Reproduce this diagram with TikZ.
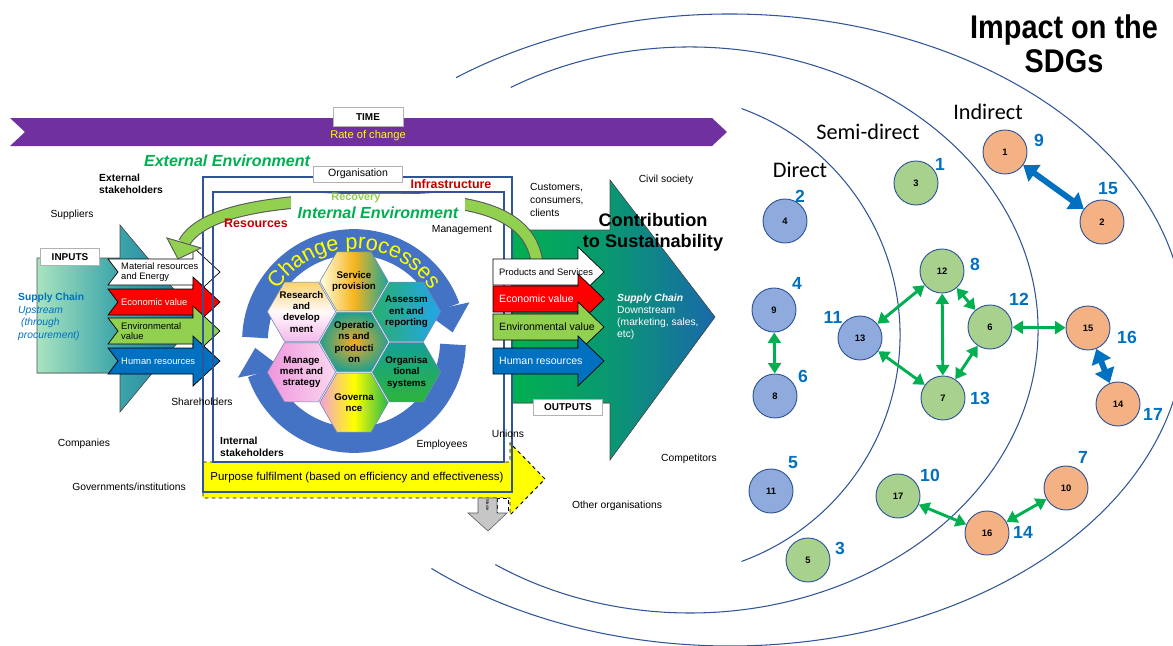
\documentclass[tikz,border=0pt]{standalone}
\usepackage{fontspec}
\setmainfont{Liberation Sans}
\newfontfamily\calfont{Carlito}
\newfontfamily\narrowfont[FakeStretch=0.88]{Liberation Sans}
\usetikzlibrary{arrows.meta,bending,shapes.geometric,decorations.text}

\definecolor{orgblue}{RGB}{47,85,151}
\definecolor{sdgblue}{RGB}{0,112,192}
\definecolor{linkgreen}{RGB}{0,176,80}
\definecolor{envgreen}{RGB}{146,208,80}
\definecolor{darkred}{RGB}{192,0,0}
\definecolor{timepurple}{RGB}{112,48,160}
\definecolor{ringblue}{RGB}{68,114,196}
\definecolor{cpyellow}{RGB}{255,255,0}
\definecolor{econred}{RGB}{255,0,0}
\definecolor{hrblue}{RGB}{0,112,192}
\definecolor{circblue}{RGB}{143,170,220}
\definecolor{circgreen}{RGB}{169,209,142}
\definecolor{circorange}{RGB}{244,177,131}
\definecolor{upmint}{RGB}{168,228,192}
\definecolor{upteal}{RGB}{60,165,170}
\definecolor{upblue}{RGB}{30,120,165}
\definecolor{downgreen}{RGB}{0,176,80}
\definecolor{downteal}{RGB}{10,150,115}
\definecolor{downblue}{RGB}{25,105,170}

\begin{document}
\begin{tikzpicture}[x=0.03cm, y=-0.03cm,
  lbl/.style={font=\fontsize{8.8}{10.8}\selectfont, inner sep=0pt},
  blbl/.style={font=\bfseries\fontsize{8.8}{10.5}\selectfont, inner sep=0pt, align=left},
  envtitle/.style={font=\bfseries\itshape\fontsize{13.7}{15}\selectfont, text=linkgreen, inner sep=0pt},
  redtitle/.style={font=\bfseries\fontsize{10.6}{12}\selectfont, text=darkred, inner sep=0pt},
  tagbox/.style={draw=gray!60, fill=white, line width=0.8pt, inner sep=0pt, font=\bfseries\fontsize{8.5}{9}\selectfont},
  orgline/.style={draw=orgblue, line width=1.7pt},
  hexcell/.style={regular polygon, regular polygon sides=6, minimum size=2.05cm, inner sep=0pt, draw=orgblue!70, line width=0.5pt},
  hextext/.style={font=\bfseries\fontsize{8.3}{9.6}\selectfont, align=center, inner sep=0pt},
  flowarrow/.style={draw=black, line width=0.6pt},
  intext/.style={font=\fontsize{8}{9}\selectfont, align=left, inner sep=0pt, anchor=west},
  outtext/.style={font=\fontsize{9}{10}\selectfont, align=left, inner sep=0pt, anchor=west},
  ringarrow/.style={draw=ringblue, line width=22pt, -{Triangle[width=39pt, length=22pt, line width=0pt]}},
  sdgcirc/.style={circle, draw=orgblue, line width=0.8pt, minimum size=1.32cm, inner sep=0pt, font=\bfseries\fontsize{8}{8}\selectfont},
  sdgnum/.style={font=\bfseries\fontsize{15}{15}\selectfont, text=sdgblue, inner sep=0pt},
  tiername/.style={font=\calfont\fontsize{19}{19}\selectfont, inner sep=0pt},
  zone/.style={draw=orgblue, line width=0.9pt},
  greenlink/.style={draw=linkgreen, line width=2.5pt, {Triangle[length=9pt, width=11pt]}-{Triangle[length=9pt, width=11pt]}},
  bluelink/.style={draw=sdgblue, line width=5pt, {Triangle[length=12pt, width=17pt]}-{Triangle[length=12pt, width=17pt]}}
]
\useasboundingbox (0,0) rectangle (1173,646);
\clip (0,0) rectangle (1173,646);

% impact zones
\draw[zone] (659,335) ++(-70:241) arc[start angle=-70, end angle=70, radius=241];
\draw[zone] (690,330) ++(-121:348 and 283) arc[start angle=-121, end angle=124, x radius=348, y radius=283];
\draw[zone] (730,330) ++(-127:455 and 316) arc[start angle=-127, end angle=131, x radius=455, y radius=316];

% time band
\fill[timepurple] (10,118) -- (712,118) -- (727,132) -- (712,146) -- (10,146) -- (25,132) -- cycle;
\node[tagbox, minimum width=2.1cm, minimum height=0.57cm] (time) at (368,117) {TIME};
\node[font=\fontsize{9.5}{10}\selectfont, text=cpyellow, inner sep=0pt] (rate) at (368,136) {Rate of change};

% supply chain arrows
\filldraw[draw=black!70, line width=0.5pt, left color=upmint, right color=upblue, middle color=upteal]
  (37,258) -- (120,258) -- (120,225) -- (198,318) -- (120,412) -- (120,373) -- (37,373) -- cycle;
\filldraw[draw=black!70, line width=0.5pt, left color=downgreen, right color=downblue, middle color=downteal]
  (512,230) -- (610,230) -- (610,180) -- (715,317) -- (610,460) -- (610,403) -- (512,403) -- cycle;

% purpose and waste
\filldraw[fill=cpyellow, draw=black, dashed, line width=0.8pt]
  (203,462) -- (510,462) -- (510,443) -- (545,479) -- (510,515) -- (510,498) -- (203,498) -- cycle;
\filldraw[fill=white, draw=black, dashed, line width=0.8pt] (497,498) rectangle (508,513);
\filldraw[fill=gray!45, draw=gray!70!black, line width=0.5pt]
  (478,498) -- (497,498) -- (497,513) -- (507,513) -- (488,531) -- (468,513) -- (478,513) -- cycle;
\node[font=\fontsize{3.6}{4}\selectfont, rotate=-90, inner sep=0pt] (waste) at (487.5,505) {Waste};

% inputs
\foreach \yc/\fillc/\tc/\txt [count=\i] in {272/white/black/{Material resources\\and Energy}, 302/econred/white/{Economic value}, 331/envgreen/black/{Environmental\\value}, 361/hrblue/white/{Human resources}}{
  \filldraw[flowarrow, fill=\fillc] (108,\yc-13) -- (193,\yc-13) -- (193,\yc-25) -- (220,\yc) -- (193,\yc+25) -- (193,\yc+13) -- (108,\yc+13) -- (118,\yc) -- cycle;
  \node[intext, text=\tc] (in\i) at (121,\yc) {\txt};
}

% organisation
\draw[orgline] (203,177) rectangle (512,492);
\draw[orgline] (213,192) rectangle (504,462);
\node[tagbox, font=\fontsize{9}{10}\selectfont, minimum width=2.67cm, minimum height=0.48cm] (org) at (358,174) {Organisation};

% change processes
\draw[ringarrow] (354,341) ++(-178:99) arc[start angle=-178, end angle=-5, radius=99];
\draw[ringarrow] (354,341) ++(2:99) arc[start angle=2, end angle=176, radius=99];
\path[decorate, decoration={text along path, text align=center, text color=cpyellow,
  text={|\fontsize{18.5}{18.5}\selectfont|Change processes}}]
  (354,341) ++(-170:92) arc[start angle=-170, end angle=-10, radius=92];

\node[hexcell, top color={rgb,255:red,250;green,210;blue,110}, bottom color={rgb,255:red,245;green,185;blue,235}, middle color=white!92!pink] (rd) at (301.5,311.7) {};
\node[hexcell, left color=yellow!12, right color={rgb,255:red,25;green,165;blue,155}, middle color={rgb,255:red,247;green,180;blue,30}] (sp) at (354,281.4) {};
\node[hexcell, left color={rgb,255:red,40;green,175;blue,110}, right color={rgb,255:red,35;green,165;blue,235}] (ar) at (406.5,311.7) {};
\node[hexcell, left color={rgb,255:red,240;green,150;blue,220}, right color={rgb,255:red,250;green,215;blue,240}] (ms) at (301.5,372.3) {};
\node[hexcell, top color={rgb,255:red,20;green,160;blue,150}, bottom color={rgb,255:red,45;green,180;blue,60}] (os) at (406.5,372.3) {};
\node[hexcell, left color={rgb,255:red,245;green,160;blue,215}, right color={rgb,255:red,40;green,185;blue,75}, middle color=yellow] (go) at (354,402.6) {};
\node[hexcell, inner color={rgb,255:red,250;green,170;blue,30}, outer color={rgb,255:red,35;green,160;blue,140}] (op) at (354,342) {};
\node[hextext] (rd-t) at (rd) {Research\\and\\develop\\ment};
\node[hextext] (sp-t) at (sp) {Service\\provision};
\node[hextext] (ar-t) at (ar) {Assessm\\ent and\\reporting};
\node[hextext] (ms-t) at (ms) {Manage\\ment and\\strategy};
\node[hextext] (os-t) at (os) {Organisa\\tional\\systems};
\node[hextext] (go-t) at (go) {Governa\\nce};
\node[hextext] (op-t) at (op) {Operatio\\ns and\\producti\\on};

% recovery loop
\draw[draw=envgreen, line width=9pt, preaction={draw=black!65, line width=10.8pt}]
  (537,262) .. controls (530,215) and (480,200) .. (400,199) .. controls (300,198) and (205,205) .. (184,243);
\filldraw[fill=envgreen, draw=black!65, line width=0.8pt] (167,238) -- (178,259) -- (201,248) -- cycle;

% outputs
\foreach \yc/\fillc/\tc/\txt [count=\i] in {272/white/black/{\fontsize{8}{9}\selectfont Products and Services}, 299/econred/white/{Economic value}, 327/envgreen/black/{Environmental value}, 361/hrblue/white/{Human resources}}{
  \filldraw[flowarrow, fill=\fillc] (493,\yc-13) -- (578,\yc-13) -- (578,\yc-25) -- (604,\yc) -- (578,\yc+25) -- (578,\yc+13) -- (493,\yc+13) -- cycle;
  \node[outtext, text=\tc] (out\i) at (499,\yc) {\txt};
}

% labels of the organisation model
\node[envtitle] (extenv) at (227,161) {External Environment};
\node[blbl, anchor=west] (extsh) at (99,184) {External\\stakeholders};
\node[lbl] (suppl) at (72,215) {Suppliers};
\node[tagbox, minimum width=1.77cm, minimum height=0.51cm] (inputs) at (70,257) {INPUTS};
\node[lbl, text=sdgblue, align=left, anchor=west] (upstream) at (18,317) {\textbf{Supply Chain}\\\textit{Upstream}\\\textit{\ (through}\\\textit{procurement)}};
\node[lbl] (sharehold) at (202,402) {Shareholders};
\node[lbl] (companies) at (84,444) {Companies};
\node[lbl] (govern) at (129,487) {Governments/institutions};
\node[redtitle] (infra) at (451,184) {Infrastructure};
\node[redtitle] (resources) at (256,223) {Resources};
\node[envtitle, fill=white, minimum width=5.2cm, minimum height=0.85cm, text depth=0pt] (intenv) at (378,208) {\raisebox{-1.2ex}{Internal Environment}};
\node[font=\bfseries\fontsize{9.3}{10}\selectfont, text=envgreen, inner sep=0pt] (recovery) at (356,198) {Recovery};
\node[lbl] (mgmt) at (462,230) {Management};
\node[blbl, anchor=west] (intsh) at (220,447) {Internal\\stakeholders};
\node[lbl] (employees) at (442,445) {Employees};
\node[lbl] (unions) at (508,434) {Unions};
\node[font=\fontsize{9.8}{11}\selectfont, inner sep=0pt] (purpose) at (357,478) {Purpose fulfilment (based on efficiency and effectiveness)};
\node[lbl, align=left, anchor=west] (customers) at (530,200) {Customers,\\consumers,\\clients};
\node[lbl] (civil) at (666,180) {Civil society};
\node[font=\bfseries\fontsize{15.5}{18}\selectfont, align=center, inner sep=0pt] (contrib) at (653,232) {Contribution\\to Sustainability};
\node[lbl, text=white, align=left, anchor=west, font=\fontsize{8.8}{10.4}\selectfont] (downstream) at (617,317) {\textbf{\textit{Supply Chain}}\\Downstream\\(marketing, sales,\\etc)};
\node[tagbox, minimum width=2.07cm, minimum height=0.48cm] (outputs) at (568,407) {OUTPUTS};
\node[lbl] (competitors) at (689,459) {Competitors};
\node[lbl] (otherorg) at (617,506) {Other organisations};

% impact on the SDGs
\node[font=\narrowfont\bfseries\fontsize{28}{29}\selectfont, align=center, inner sep=0pt] (title) at (1064,44) {Impact on the\\SDGs};
\node[tiername] (direct) at (800,170) {Direct};
\node[tiername] (semidirect) at (868,132) {Semi-direct};
\node[tiername] (indirect) at (988,112) {Indirect};

\foreach \n/\px/\py/\col/\k/\kx/\ky in {
  4/785/221/circblue/2/800/196, 9/774/310/circblue/4/797/283, 8/775/396/circblue/6/803/376,
  11/771/491/circblue/5/793/463, 13/860/338/circblue/11/833/317,
  3/916/183/circgreen/1/940/164, 12/942/271/circgreen/8/975/264, 6/990/327/circgreen/12/1019/299,
  7/943/398/circgreen/13/980/398, 17/898/496/circgreen/10/930/475, 5/808/560/circgreen/3/840/548,
  1/1005/152/circorange/9/1039/140, 2/1102/222/circorange/15/1108/189, 15/1088/328/circorange/16/1127/337,
  14/1118/404/circorange/17/1153/414, 10/1066/488/circorange/7/1083/457, 16/987/533/circorange/14/1023/532}{
  \node[sdgcirc, fill=\col] (c\n) at (\px,\py) {\n};
  \node[sdgnum] (k\n) at (\kx,\ky) {\k};
}

\draw[greenlink] (c9) -- (c8);
\draw[greenlink] (c12) -- (c13);
\draw[greenlink] (c12) -- (c6);
\draw[greenlink] (c12) -- (c7);
\draw[greenlink] (c13) -- (c7);
\draw[greenlink] (c6) -- (c7);
\draw[greenlink] (c6) -- (c15);
\draw[greenlink] (c17) -- (c16);
\draw[greenlink] (c16) -- (c10);
\draw[bluelink] (c1) -- (c2);
\draw[bluelink] (c15) -- (c14);
\end{tikzpicture}
\end{document}
